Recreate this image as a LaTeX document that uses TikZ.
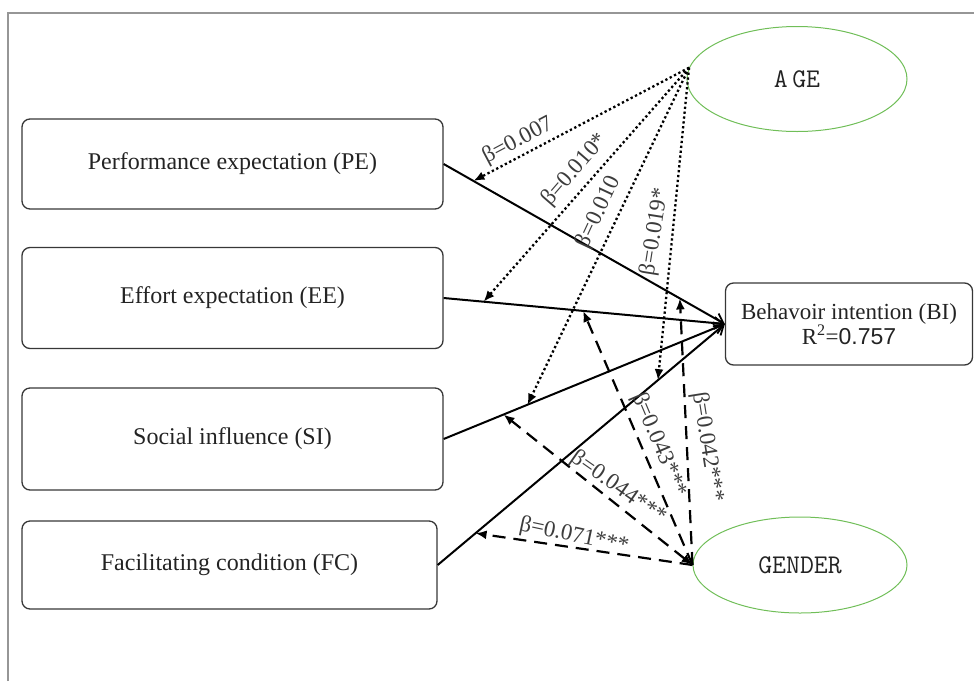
\documentclass[tikz,border=0pt]{standalone}
\usepackage{fontspec}
\setmainfont{Liberation Serif}
\newfontfamily\sansfnt{Liberation Sans}
\usetikzlibrary{arrows.meta,shapes.geometric}
\definecolor{boxline}{RGB}{55,55,55}
\definecolor{framecol}{RGB}{150,150,150}
\definecolor{ellcol}{RGB}{112,190,88}
\definecolor{txtcol}{RGB}{35,35,35}
\definecolor{lblcol}{RGB}{60,60,60}
\tikzset{
  varbox/.style={draw=boxline, line width=1.3pt, rounded corners=8pt, inner sep=0pt,
    text=txtcol, font=\fontsize{24}{26}\selectfont},
  modell/.style={ellipse, draw=ellcol, line width=1pt, inner sep=0pt,
    text=txtcol, font=\ttfamily\fontsize{27}{27}\selectfont},
  solidarrow/.style={line width=2pt, -{Straight Barb[length=9pt,width=12pt,line width=1.8pt]}},
  dotarrow/.style={line width=2.3pt, dash pattern=on 2.3pt off 2.6pt, -{Latex[length=11pt,width=9pt]}},
  dasharrow/.style={line width=2.2pt, dash pattern=on 13pt off 8pt, -{Latex[length=11pt,width=9pt]}},
  blabel/.style={text=lblcol, inner sep=1pt, font=\fontsize{23}{23}\selectfont}
}
\begin{document}
\begin{tikzpicture}[x=1pt,y=-1pt]
\useasboundingbox (0,0) rectangle (974,681);
\draw[framecol, line width=1.2pt] (8,681) -- (8,13) -- (974,13);

% predictor boxes
\node[varbox, minimum width=421pt, minimum height=90pt] (PE) at (232.5,164) {Performance expectation (PE)};
\node[varbox, minimum width=421pt, minimum height=101pt] (EE) at (232.5,298) {Effort expectation (EE)};
\node[varbox, minimum width=421pt, minimum height=102pt] (SI) at (232.5,439) {Social influence (SI)};
\node[varbox, minimum width=415pt, minimum height=88pt] (FC) at (229.5,565) {Facilitating condition (FC)};

% outcome
\node[varbox, minimum width=247pt, minimum height=82pt, align=center, font=\fontsize{23}{21}\selectfont] (BI) at (849,324)
  {Behavoir intention (BI)\\[0pt]R\textsuperscript{2}=\sansfnt 0.757};

% moderators
\node[modell, minimum width=220pt, minimum height=105pt] (AGE) at (797,79) {A\,GE};
\node[modell, minimum width=214pt, minimum height=96pt] (GEN) at (800,565) {GENDER};

\coordinate (agept) at (AGE.174);
\coordinate (genpt) at (GEN.west);

% main paths
\draw[solidarrow] (PE.east) -- coordinate[pos=0.106] (pe1) coordinate[pos=0.84] (pe2) (BI.west);
\draw[solidarrow] (EE.east) -- coordinate[pos=0.142] (ee1) coordinate[pos=0.496] (ee2) (BI.west);
\draw[solidarrow] (SI.east) -- coordinate[pos=0.298] (si1) coordinate[pos=0.213] (si2) (BI.west);
\draw[solidarrow] (FC.east) -- coordinate[pos=0.767] (fc1) coordinate[pos=0.132] (fc2) (BI.west);

% age moderation (dotted)
\draw[dotarrow] (agept) -- (pe1);
\draw[dotarrow] (agept) -- (ee1);
\draw[dotarrow] (agept) -- (si1);
\draw[dotarrow] (agept) -- (fc1);

% gender moderation (dashed)
\draw[dasharrow] (genpt) -- (pe2);
\draw[dasharrow] (genpt) -- (ee2);
\draw[dasharrow, {Latex[length=11pt,width=9pt]}-{Latex[length=11pt,width=9pt]}] (genpt) -- (si2);
\draw[dasharrow] (genpt) -- (fc2);

% coefficients
\node[blabel, rotate=28] (l1) at (518,141) {β=0.007};
\node[blabel, rotate=49] (l2) at (575,170) {β=0.010*};
\node[blabel, rotate=65] (l3) at (599,212) {β=0.010};
\node[blabel, rotate=81] (l4) at (655,232) {β=0.019*};
\node[blabel, rotate=-67] (l5) at (659,445) {β=0.043***};
\node[blabel, rotate=-81] (l6) at (707,447) {β=0.042***};
\node[blabel, rotate=-35] (l7) at (618,488) {β=0.044***};
\node[blabel, rotate=-12] (l8) at (574,536) {β=0.071***};
\end{tikzpicture}
\end{document}
